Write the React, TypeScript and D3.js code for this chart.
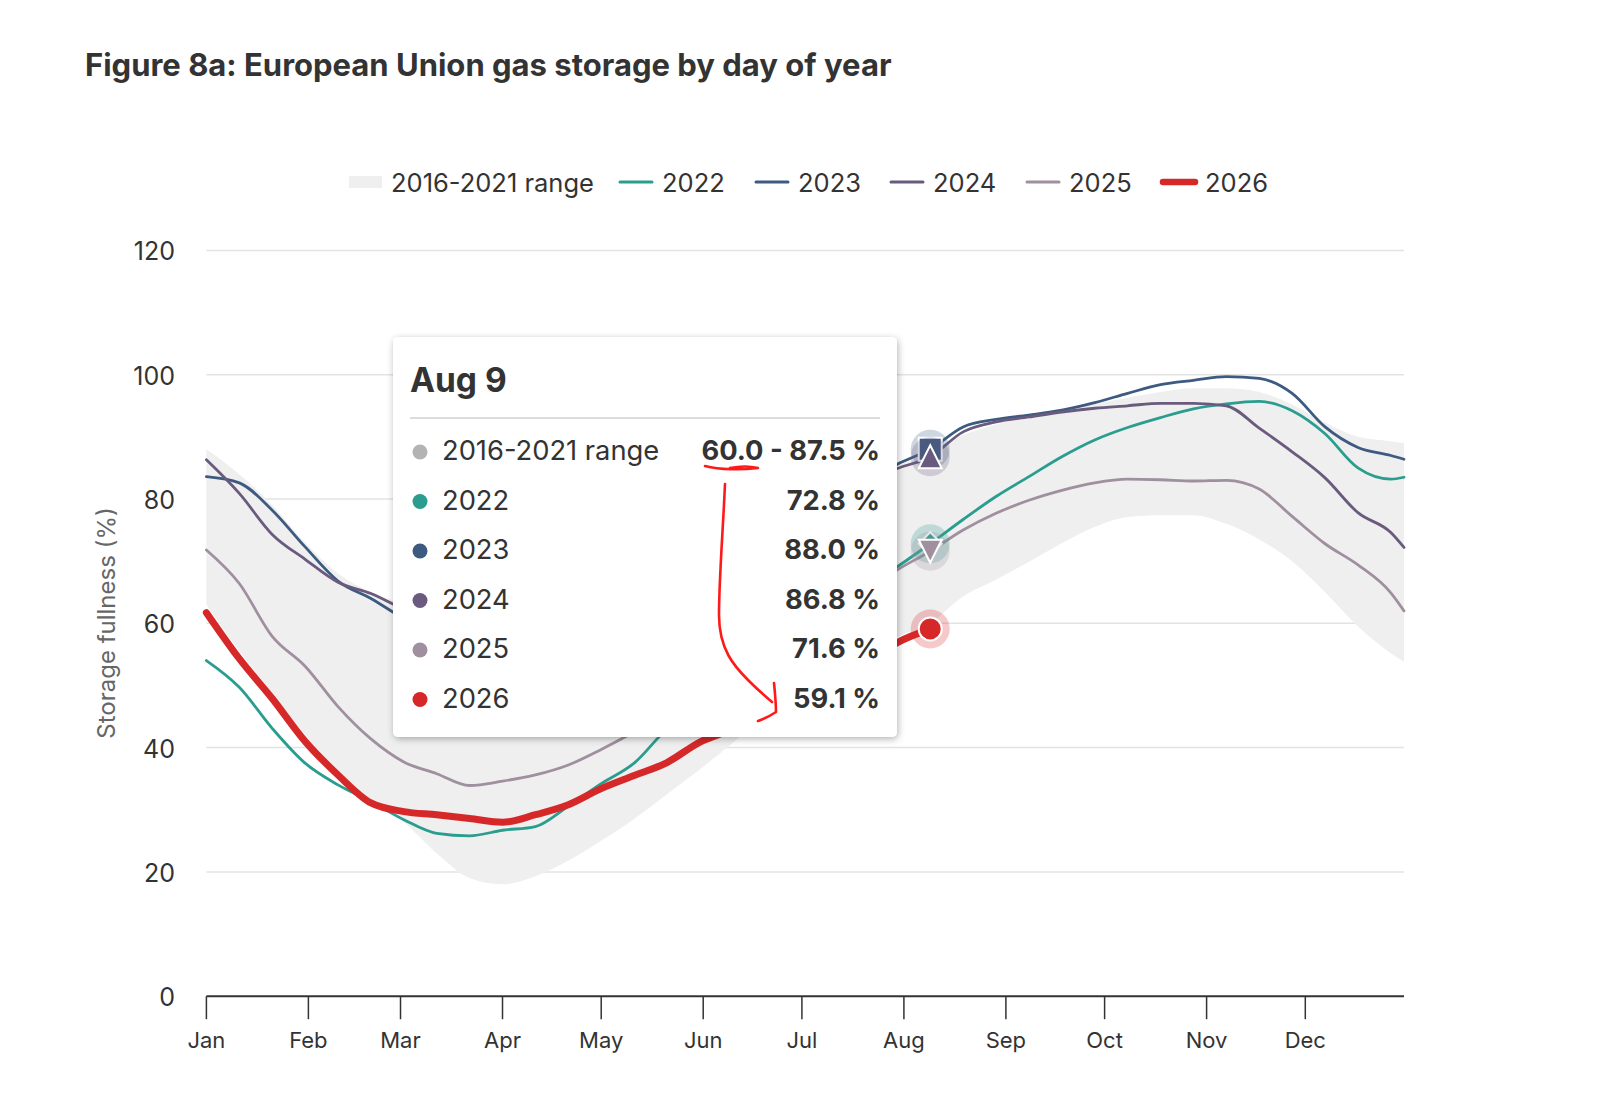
import React from 'react';
import * as d3 from 'd3';

// ---- data (day of year, 0 = Jan 1) ----
const days = [0, 10, 20, 30, 40, 50, 60, 70, 80, 90, 100, 110, 120, 130, 140, 150, 160, 170, 180, 190, 200, 210, 220, 230, 240, 250, 260, 270, 280, 290, 300, 310, 320, 330, 340, 350, 360, 364];

const rangeLow = [63.0, 55.5, 48.7, 42.0, 36.3, 31.5, 28.0, 23.0, 19.0, 18.0, 19.3, 21.8, 25.0, 28.5, 32.5, 36.5, 40.8, 45.0, 48.5, 52.0, 55.0, 57.8, 60.0, 64.3, 67.0, 69.9, 72.9, 75.5, 77.1, 77.4, 77.4, 76.0, 73.5, 70.0, 65.0, 59.5, 55.2, 53.8];
const rangeHigh = [88.0, 84.0, 79.0, 73.0, 68.0, 65.0, 63.0, 60.0, 57.0, 55.5, 56.0, 58.0, 60.5, 64.0, 67.0, 70.0, 73.0, 75.5, 78.0, 80.5, 83.0, 85.3, 87.5, 90.3, 92.0, 93.3, 94.4, 95.3, 96.3, 97.2, 97.8, 97.8, 97.2, 95.2, 92.3, 90.0, 89.3, 89.0];

const y2022 = [54.0, 49.7, 43.1, 37.5, 34.0, 31.3, 28.4, 26.2, 25.8, 26.7, 27.3, 30.6, 34.2, 37.5, 43.0, 46.5, 50.0, 53.5, 57.5, 61.5, 65.5, 69.1, 72.8, 76.7, 80.4, 83.6, 86.8, 89.5, 91.5, 93.1, 94.5, 95.3, 95.7, 94.2, 90.5, 85.0, 83.2, 83.5];
const y2023 = [83.6, 82.6, 78.2, 72.3, 66.8, 64.0, 60.8, 58.5, 56.5, 55.7, 57.0, 59.5, 61.5, 64.5, 67.5, 70.5, 73.0, 75.0, 77.5, 80.0, 82.5, 85.6, 88.0, 91.6, 92.8, 93.5, 94.3, 95.5, 97.0, 98.4, 99.1, 99.7, 99.4, 97.0, 91.6, 88.3, 87.0, 86.4];
const y2024 = [86.3, 80.9, 74.3, 70.3, 66.6, 64.8, 62.3, 60.5, 59.3, 58.7, 59.5, 61.5, 63.0, 66.0, 68.5, 71.0, 73.5, 76.0, 78.0, 80.0, 82.5, 84.9, 86.8, 90.8, 92.4, 93.2, 94.0, 94.6, 95.0, 95.4, 95.4, 95.0, 91.4, 87.6, 83.4, 77.8, 74.6, 72.2];
const y2025 = [71.8, 66.4, 57.9, 53.1, 46.6, 41.4, 37.7, 35.8, 33.9, 34.6, 35.6, 37.2, 39.7, 42.5, 45.5, 48.5, 52.0, 55.5, 59.0, 62.0, 65.0, 68.6, 71.6, 75.0, 77.7, 79.8, 81.4, 82.6, 83.2, 83.1, 82.9, 83.0, 81.6, 77.2, 72.8, 69.4, 64.9, 62.0];
const y2026 = [61.7, 54.3, 47.9, 41.0, 35.6, 31.1, 29.7, 29.2, 28.6, 28.0, 29.2, 30.8, 33.4, 35.5, 37.6, 40.9, 43.0, 46.0, 48.5, 51.0, 53.5, 56.9, 59.1];

const seriesNames = ['2022', '2023', '2024', '2025', '2026'];
const seriesValues = [y2022, y2023, y2024, y2025, y2026];
const seriesColors = ['#2a9d8f', '#3d5a80', '#6a5a7e', '#a08f9f', '#d62828'];
const seriesSymbols = ['diamond', 'square', 'triangle', 'triangle-down', 'circle'];
const rangeLabel = '2016-2021 range';
const rangeColor = '#efefef';

const monthStarts = [0, 31, 59, 90, 120, 151, 181, 212, 243, 273, 304, 334];
const monthLabels = ['Jan', 'Feb', 'Mar', 'Apr', 'May', 'Jun', 'Jul', 'Aug', 'Sep', 'Oct', 'Nov', 'Dec'];
const yTicks = [0, 20, 40, 60, 80, 100, 120];

const hoverDay = 220;
const hoverLabel = 'Aug 9';

const FONT = "Inter, 'Noto Sans', 'DejaVu Sans', sans-serif";

function symbolPath(kind: string, r: number) {
  switch (kind) {
    case 'square':
      return `M${-r},${-r}h${2 * r}v${2 * r}h${-2 * r}Z`;
    case 'triangle':
      return `M0,${-r}L${r},${r}L${-r},${r}Z`;
    case 'triangle-down':
      return `M${-r},${-r}L${r},${-r}L0,${r}Z`;
    case 'diamond':
      return `M0,${-r}L${r},0L0,${r}L${-r},0Z`;
    default:
      return `M${-r},0a${r},${r} 0 1,0 ${2 * r},0a${r},${r} 0 1,0 ${-2 * r},0`;
  }
}

export default function App() {
  const W = 1610;
  const H = 1114;
  const x = d3.scaleLinear().domain([0, 364]).range([206.4, 1404]);
  const y = d3.scaleLinear().domain([0, 120]).range([996.2, 250.4]);

  const area = d3
    .area<number>()
    .x((_, i) => x(days[i]))
    .y0((_, i) => y(rangeLow[i]))
    .y1((_, i) => y(rangeHigh[i]))
    .curve(d3.curveMonotoneX);

  const line = d3
    .line<number>()
    .x((_, i) => x(days[i]))
    .y((d) => y(d))
    .curve(d3.curveMonotoneX);

  const hoverIdx = days.indexOf(hoverDay);
  const hx = x(hoverDay);

  // legend layout
  const legendY = 182;
  const legendLineX = [620, 756, 891, 1027, 1163];

  // tooltip layout
  const tt = { x: 393, y: 337, w: 504, h: 400 };
  const rowY0 = 460;
  const rowStep = 49.5;
  const valueX = 880;
  const rows = [
    { name: rangeLabel, color: '#b3b3b3', value: `${rangeLow[hoverIdx].toFixed(1)} - ${rangeHigh[hoverIdx].toFixed(1)} %` },
    ...seriesNames.map((n, i) => ({ name: n, color: seriesColors[i], value: `${seriesValues[i][hoverIdx].toFixed(1)} %` })),
  ];

  return (
    <svg
      width={W}
      height={H}
      viewBox={`0 0 ${W} ${H}`}
      style={{ position: 'absolute', left: 0, top: 0, background: '#fff', fontFamily: FONT }}
    >
      <defs>
        <filter id="ttshadow" x="-10%" y="-10%" width="125%" height="125%">
          <feDropShadow dx="1" dy="2" stdDeviation="3.5" floodColor="#000" floodOpacity="0.3" />
        </filter>
      </defs>
      <rect x={0} y={0} width={W} height={H} fill="#fff" />

      {/* title */}
      <text x={85} y={76} fontSize={31} fontWeight={700} fill="#333">
        Figure 8a: European Union gas storage by day of year
      </text>

      {/* legend */}
      <g fontSize={25.5} fill="#333">
        <rect x={349} y={legendY - 6} width={33} height={12} fill={rangeColor} />
        <text x={391} y={legendY} dominantBaseline="central">{rangeLabel}</text>
        {seriesNames.map((n, i) => (
          <g key={n}>
            <line
              x1={legendLineX[i]}
              x2={legendLineX[i] + 32}
              y1={legendY}
              y2={legendY}
              stroke={seriesColors[i]}
              strokeWidth={i === 4 ? 6.5 : 3}
              strokeLinecap="round"
            />
            <text x={legendLineX[i] + 42} y={legendY} dominantBaseline="central">{n}</text>
          </g>
        ))}
      </g>

      {/* grid */}
      {yTicks.filter((t) => t > 0).map((t) => (
        <line key={t} x1={x(0)} x2={x(364)} y1={y(t)} y2={y(t)} stroke="#e3e3e3" strokeWidth={1.5} />
      ))}

      {/* y labels */}
      <g fontSize={25} fill="#333" textAnchor="end">
        {yTicks.map((t) => (
          <text key={t} x={175} y={y(t) + 1} dominantBaseline="central">{t}</text>
        ))}
      </g>
      <text
        transform={`translate(106,623) rotate(-90)`}
        textAnchor="middle"
        dominantBaseline="central"
        fontSize={24}
        fill="#666"
      >
        Storage fullness (%)
      </text>

      {/* range band */}
      <path d={area(rangeLow) || ''} fill={rangeColor} />

      {/* series lines */}
      {seriesValues.map((vals, i) => (
        <path
          key={seriesNames[i]}
          d={line(vals) || ''}
          fill="none"
          stroke={seriesColors[i]}
          strokeWidth={i === 4 ? 7 : 2.8}
          strokeLinejoin="round"
          strokeLinecap="round"
        />
      ))}

      {/* x axis */}
      <line x1={x(0)} x2={x(364)} y1={y(0)} y2={y(0)} stroke="#333" strokeWidth={2} />
      {monthStarts.map((d, i) => (
        <g key={monthLabels[i]}>
          <line x1={x(d)} x2={x(d)} y1={y(0)} y2={y(0) + 23} stroke="#333" strokeWidth={1.5} />
          <text x={x(d)} y={1048} textAnchor="middle" fontSize={22} fill="#333">
            {monthLabels[i]}
          </text>
        </g>
      ))}

      {/* hover markers */}
      {seriesValues.map((vals, i) => {
        const cy = y(vals[hoverIdx]);
        return (
          <g key={'m' + i} transform={`translate(${hx},${cy})`}>
            <circle r={19.5} fill={seriesColors[i]} fillOpacity={0.25} />
            <path d={symbolPath(seriesSymbols[i], 11.5)} fill={seriesColors[i]} stroke="#fff" strokeWidth={2} />
          </g>
        );
      })}

      {/* tooltip */}
      <g>
        <rect x={tt.x} y={tt.y} width={tt.w} height={tt.h} rx={5} fill="#fff" filter="url(#ttshadow)" />
        <text x={410} y={392} fontSize={33.5} fontWeight={700} fill="#333">{hoverLabel}</text>
        <line x1={410} x2={880} y1={418} y2={418} stroke="#dcdcdc" strokeWidth={2} />
        {rows.map((r, i) => {
          const by = rowY0 + i * rowStep;
          return (
            <g key={r.name}>
              <circle cx={420} cy={by - 8} r={7.5} fill={r.color} />
              <text x={442} y={by} fontSize={27.3} fill="#333">{r.name}</text>
              <text x={valueX} y={by} fontSize={27.3} fontWeight={700} fill="#333" textAnchor="end">
                {r.value}
              </text>
            </g>
          );
        })}
      </g>

      {/* hand-drawn annotation */}
      <g fill="none" stroke="#ff1a1a" strokeWidth={2.6} strokeLinecap="round" strokeLinejoin="round">
        <path d="M705,466 C720,470 742,470 758,468 C750,466 740,466 730,468" />
        <path d="M725,484 C723,530 719,580 719,615 C719,650 735,667 748,680 C758,690 766,697 772,702" />
        <path d="M774,683 C775,693 776,703 776,712 C770,716 764,719 758,721" />
      </g>
    </svg>
  );
}
